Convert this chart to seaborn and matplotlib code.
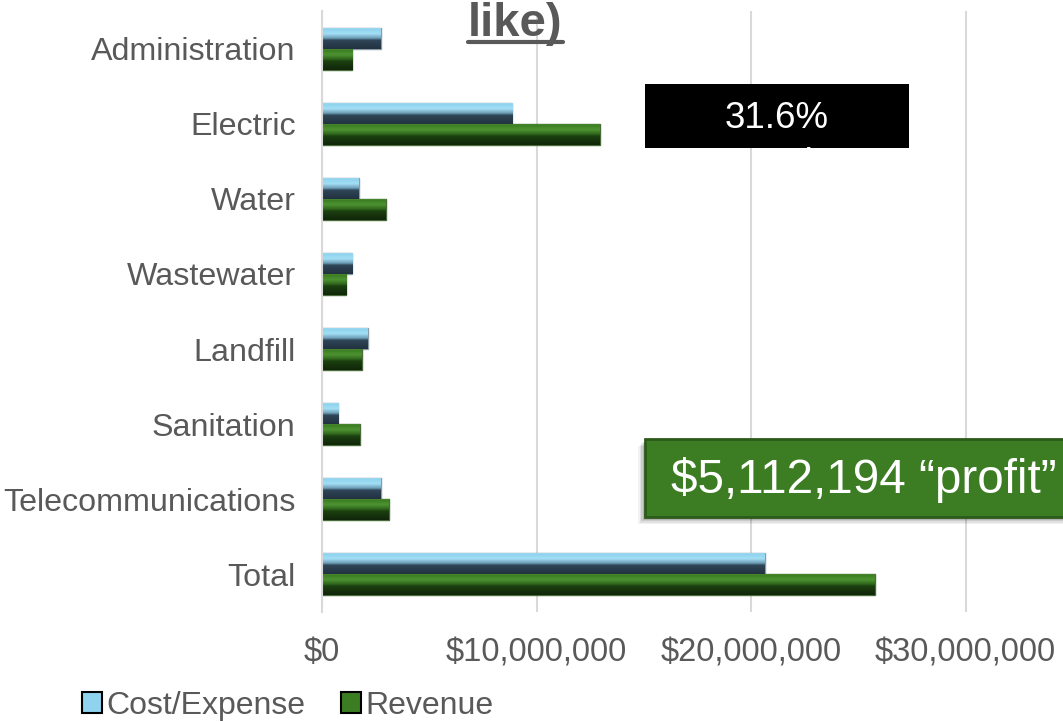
import numpy as np
import pandas as pd
import matplotlib
matplotlib.use("Agg")
import matplotlib.pyplot as plt
import seaborn as sns
from matplotlib.patches import Rectangle, Patch
from matplotlib.lines import Line2D
from matplotlib.ticker import FuncFormatter
from matplotlib.colors import to_rgb

# ---- data ----
categories = ["Administration", "Electric", "Water", "Wastewater", "Landfill",
              "Sanitation", "Telecommunications", "Total"]
cost_expense = [2.75e6, 8.86e6, 1.72e6, 1.40e6, 2.14e6, 0.75e6, 2.75e6, 20.65e6]
revenue = [1.40e6, 12.96e6, 2.98e6, 1.12e6, 1.86e6, 1.77e6, 3.12e6, 25.76e6]
series_names = ["Cost/Expense", "Revenue"]
x_ticks = [0, 10_000_000, 20_000_000, 30_000_000]
title_fragment = "like)"
margin_label = "31.6%"
margin_sub = "Margin"
profit_label = "$5,112,194 \u201cprofit\u201d"

df = pd.DataFrame({
    "category": categories * 2,
    "value": cost_expense + revenue,
    "series": [series_names[0]] * len(categories) + [series_names[1]] * len(categories),
})

sns.set_theme(style="white")
plt.rcParams["font.family"] = ["Liberation Sans", "DejaVu Sans"]

W, H = 1063, 722
fig = plt.figure(figsize=(W / 100, H / 100), dpi=100)
ax = fig.add_axes([322 / W, 1 - 612 / H, 1 - 322 / W, (612 - 11) / H])

base_colors = {series_names[0]: "#8FD3EF", series_names[1]: "#3C7D23"}
sns.barplot(data=df, y="category", x="value", hue="series", orient="h",
            palette=base_colors, width=0.56, ax=ax, legend=False,
            order=categories, hue_order=series_names, saturation=1,
            edgecolor="#7F8F99", linewidth=1.0)

xmax = (W - 322) / 21.45 * 1e6
ax.set_xlim(0, xmax)
ax.set_ylim(len(categories) - 0.5, -0.5)
ax.set_xticks(x_ticks)
ax.xaxis.set_major_formatter(FuncFormatter(lambda v, p: "${:,.0f}".format(v)))
ax.set_xlabel("")
ax.set_ylabel("")
ax.grid(axis="x", color="#D9D9D9", linewidth=1.5)
ax.set_axisbelow(True)
for s in ["top", "right", "bottom"]:
    ax.spines[s].set_visible(False)
ax.spines["left"].set_color("#D9D9D9")
ax.spines["left"].set_linewidth(1.5)
ax.tick_params(axis="y", length=0, pad=19, labelsize=23.2, labelcolor="#595959")
ax.tick_params(axis="x", length=0, pad=18, labelsize=23.5, labelcolor="#595959")

# bevel-like gradient overlay on each bar drawn by seaborn
grad_stops = {
    series_names[0]: [(0.0, "#BFE6F5"), (0.08, "#8ED3EE"), (0.3, "#A3DEF4"),
                      (0.5, "#6E9FB8"), (0.6, "#2E4557"), (1.0, "#223240")],
    series_names[1]: [(0.0, "#5E9A45"), (0.08, "#3C7D23"), (0.3, "#4D9332"),
                      (0.5, "#2F661C"), (0.6, "#1C3F10"), (1.0, "#10260A")],
}

def make_grad(stops, n=60):
    pos = np.array([s[0] for s in stops])
    cols = np.array([to_rgb(s[1]) for s in stops])
    t = np.linspace(0, 1, n)
    arr = np.stack([np.interp(t, pos, cols[:, k]) for k in range(3)], axis=1)
    return arr[:, None, :]

n_cat = len(categories)
for i, patch in enumerate(list(ax.patches)):
    name = series_names[0] if i < n_cat else series_names[1]
    x0, y0 = patch.get_x(), patch.get_y()
    w, h = patch.get_width(), patch.get_height()
    if w <= 0:
        continue
    img = make_grad(grad_stops[name])
    im = ax.imshow(img, extent=(x0, x0 + w, y0 + h, y0), aspect="auto",
                   zorder=patch.get_zorder() + 0.1, interpolation="bilinear")
    im.set_clip_path(patch)
    patch.set_edgecolor("#8C9CA6" if name == series_names[0] else "#4A6B3A")
ax.set_xlim(0, xmax)
ax.set_ylim(len(categories) - 0.5, -0.5)

# legend
handles = [Patch(facecolor="#8FD3EF", edgecolor="black", linewidth=1.5, label=series_names[0]),
           Patch(facecolor="#3C7D23", edgecolor="black", linewidth=1.5, label=series_names[1])]
fig.legend(handles=handles, loc="center left", bbox_to_anchor=(82 / W, 1 - 706 / H),
           ncol=2, frameon=False, fontsize=23, handlelength=0.62, handleheight=0.62,
           handletextpad=0.15, columnspacing=1.1, borderpad=0, borderaxespad=0,
           labelcolor="#595959")

# title fragment (cropped) with underline
fig.text(515 / W, 1 - 36 / H, title_fragment, ha="center", va="baseline",
         fontsize=34, fontweight="bold", color="#595959")
fig.add_artist(Line2D([468 / W, 563 / W], [1 - 41.5 / H, 1 - 41.5 / H],
                      transform=fig.transFigure, color="#595959", linewidth=3))

# black margin box
mbox = Rectangle((645 / W, 1 - 148 / H), 264 / W, 64 / H, transform=fig.transFigure,
                 facecolor="black", edgecolor="none", zorder=5)
fig.add_artist(mbox)
fig.text(777 / W, 1 - 118 / H, margin_label, ha="center", va="center",
         fontsize=26.5, color="white", zorder=6)
t2 = fig.text(777 / W, 1 - 164 / H, margin_sub, ha="center", va="center",
              fontsize=26.5, color="white", zorder=6)
t2.set_clip_path(mbox)

# green profit box with soft shadow
for k, a in enumerate([0.05, 0.07, 0.09, 0.12]):
    off = 7 - k * 1.5
    fig.add_artist(Rectangle(((645 - off) / W, 1 - (517 + off) / H), 430 / W, 78 / H,
                             transform=fig.transFigure, facecolor="black",
                             edgecolor="none", alpha=a, zorder=4))
fig.add_artist(Rectangle((645 / W, 1 - 517 / H), 430 / W, 78 / H, transform=fig.transFigure,
                         facecolor="#3C7D23", edgecolor="#2B5A19", linewidth=2, zorder=5))
fig.text(1057 / W, 1 - 480 / H, profit_label, ha="right", va="center",
         fontsize=34.3, color="white", zorder=6)

fig.savefig("out.png", dpi=100)
